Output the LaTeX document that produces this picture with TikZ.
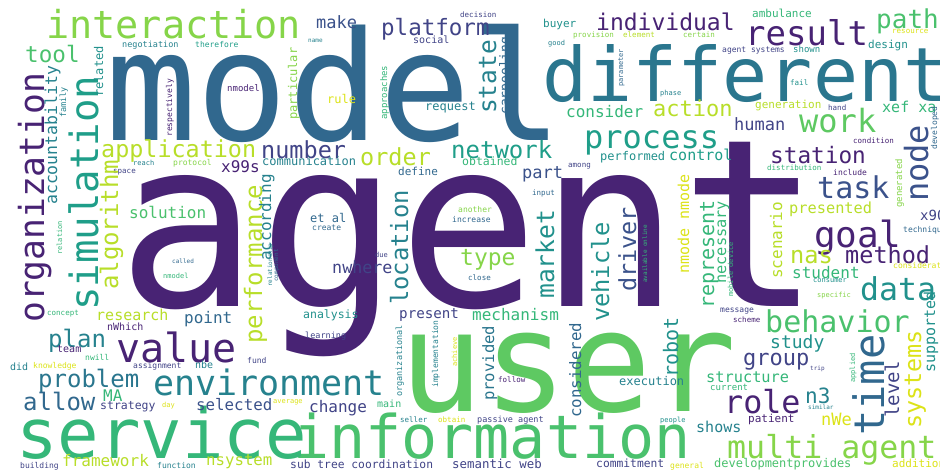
\documentclass[tikz,border=0pt]{standalone}
\usepackage{fontspec}
\newfontfamily\cloudfont{DejaVu Sans Mono}
\usetikzlibrary{positioning}
\definecolor{vpurple}{RGB}{72,35,116}
\definecolor{vindigo}{RGB}{65,68,135}
\definecolor{vblue}{RGB}{59,82,139}
\definecolor{vsteel}{RGB}{49,104,142}
\definecolor{vocean}{RGB}{42,118,142}
\definecolor{vteal}{RGB}{38,130,142}
\definecolor{vcyan}{RGB}{33,145,140}
\definecolor{vsea}{RGB}{31,158,137}
\definecolor{vgreen}{RGB}{53,183,121}
\definecolor{vleaf}{RGB}{74,193,109}
\definecolor{vbright}{RGB}{94,201,98}
\definecolor{vlime}{RGB}{134,213,73}
\definecolor{vchart}{RGB}{184,222,41}
\definecolor{vyellow}{RGB}{220,227,24}
\tikzset{word/.style={inner sep=0pt, anchor=base west,
    font=\cloudfont\fontsize{#1}{#1}\selectfont},
  upword/.style={word=#1, rotate=90}}

\begin{document}
\begin{tikzpicture}[x=1pt, y=-1pt]
    \fill[white] (0,0) rectangle (940,472);
    \useasboundingbox (0,0) rectangle (940,472);

    % big words
    \node[word=234, vpurple] (agent) at (117,306) {agent};
    \node[word=152, vsteel] (model) at (105,140) {model};
    \node[word=75, vocean] (different) at (542,101) {different};
    \node[word=140, vbright] (user) at (399,411) {user};
    \node[word=60, vleaf] (information) at (293,458) {information};
    \node[word=69, vgreen] (service) at (16,458) {service};
    \node[word=38.5, vlime] (interaction) at (46,38) {interaction};
    \node[upword=34.6, vpurple] (organization) at (44,323) {organization};
    \node[upword=39, vsea] (simulation) at (98,311) {simulation};
    \node[word=35, vteal] (environment) at (153,395) {environment};
    \node[word=40, vpurple] (value) at (116,362) {value};
    \node[word=31.6, vlime] (multiagent) at (727,458) {multi agent};
    \node[upword=42, vsteel] (time) at (884,436) {time};

    % medium words
    \node[word=24, vocean] (problem) at (38,387) {problem};
    \node[word=24, vsteel] (allow) at (23,410) {allow};
    \node[word=24, vteal] (plan) at (48,347) {plan};
    \node[word=15, vchart] (research) at (96,320) {research};
    \node[word=16, vsteel] (point) at (184,323) {point};
    \node[word=22.6, vleaf] (tool) at (25,62) {tool};
    \node[word=23.4, vchart] (application) at (101,157) {application};
    \node[word=23.5, vindigo] (number) at (261,158) {number};
    \node[word=16, vpurple] (x99s) at (221,172) {x99s};
    \node[word=16, vleaf] (solution) at (129,218) {solution};
    \node[word=22.5, vindigo] (platform) at (381,35) {platform};
    \node[word=17, vblue] (make) at (316,28) {make};
    \node[word=24, vsea] (network) at (451,158) {network};
    \node[word=23.5, vchart] (order) at (360,165) {order};
    \node[word=32, vsea] (process) at (584,148) {process};
    \node[word=23, vpurple] (individual) at (596,30) {individual};
    \node[word=34, vpurple] (result) at (745,45) {result};
    \node[word=26, vleaf] (path) at (876,28) {path};
    \node[word=22, vchart] (action) at (653,116) {action};
    \node[word=16, vgreen] (consider) at (566,117) {consider};
    \node[word=32, vbright] (work) at (799,132) {work};
    \node[word=15, vgreen] (xefxa) at (882,112) {xef xa};
    \node[word=17, vindigo] (human) at (734,130) {human};
    \node[word=15, vsea] (control) at (669,160) {control};
    \node[word=22.7, vpurple] (station) at (770,163) {station};
    \node[word=30, vblue] (task) at (817,198) {task};
    \node[word=36, vpurple] (goal) at (814,247) {goal};
    \node[word=23.5, vpurple] (method) at (845,263) {method};
    \node[word=31.5, vcyan] (data) at (860,300) {data};
    \node[word=23.6, vchart] (nas) at (790,263) {nas};
    \node[word=16, vgreen] (student) at (792,278) {student};
    \node[word=15.3, vchart] (presented) at (789,213) {presented};
    \node[word=23, vlime] (type) at (460,265) {type};
    \node[word=17, vblue] (part) at (522,178) {part};
    \node[word=16.7, vindigo] (nwhere) at (332,273) {nwhere};
    \node[word=14.2, vindigo] (present) at (399,318) {present};
    \node[word=16, vgreen] (mechanism) at (472,320) {mechanism};
    \node[word=16, vindigo] (change) at (309,412) {change};
    \node[word=30, vleaf] (behavior) at (765,332) {behavior};
    \node[word=18, vcyan] (study) at (770,348) {study};
    \node[word=22, vindigo] (group) at (743,365) {group};
    \node[word=15.3, vgreen] (structure) at (706,382) {structure};
    \node[word=12, vteal] (execution) at (619,385) {execution};
    \node[word=21, vteal] (n3) at (805,403) {n3};
    \node[word=31.7, vpurple] (role) at (724,413) {role};
    \node[word=15, vteal] (shows) at (696,432) {shows};
    \node[word=17, vyellow] (nWe) at (821,425) {nWe};
    \node[word=11, vpurple] (patient) at (748,422) {patient};
    \node[word=16, vchart] (framework) at (62,466) {framework};
    \node[word=15.7, vchart] (nsystem) at (206,465) {nsystem};
    \node[word=15.8, vblue] (selected) at (196,410) {selected};
    \node[word=11.5, vindigo] (strategy) at (100,409) {strategy};
    \node[word=16, vgreen] (MA) at (103,401) {MA};
    \node[word=11.3, vindigo] (subtree) at (290,468) {sub tree coordination};
    \node[word=12.4, vindigo] (semanticweb) at (452,468) {semantic web};
    \node[word=12, vleaf] (devprovides) at (714,467) {developmentprovides};
    \node[word=11.3, vindigo] (commitment) at (596,467) {commitment};
    \node[word=11, vyellow] (additional) at (892,467) {additional};
    \node[word=8, vyellow] (general) at (670,468) {general};
    \node[word=12, vteal] (communication) at (262,165) {communication};
    \node[word=11.5, vgreen] (obtained) at (462,165) {obtained};
    \node[word=11, vsteel] (define) at (398,175) {define};
    \node[word=12, vsteel] (etal) at (310,222) {et al};
    \node[word=11.5, vcyan] (analysis) at (303,318) {analysis};
    \node[word=12, vyellow] (rule) at (327,103) {rule};
    \node[word=12, vteal] (request) at (425,110) {request};
    \node[word=11, vcyan] (buyer) at (543,27) {buyer};
    \node[word=11, vcyan] (design) at (868,48) {design};
    \node[word=11, vgreen] (ambulance) at (752,17) {ambulance};
    \node[word=11, vchart] (generation) at (755,108) {generation};
    \node[word=12, vcyan] (performed) at (600,160) {performed};
    \node[word=14, vindigo] (x90) at (920,220) {x90};
    \node[word=10, vgreen] (main) at (377,407) {main};
    \node[word=10, vindigo] (social) at (413,43) {social};
    \node[word=10, vteal] (did) at (10,370) {did};
    \node[word=10, vpurple] (team) at (57,352) {team};
    \node[word=10, vpurple] (nWhich) at (107,330) {nWhich};
    \node[word=10, vteal] (nbe) at (195,368) {nbe};

    % small words
    \node[word=8.5, vteal] (negotiation) at (122,47) {negotiation};
    \node[word=8, vsea] (therefore) at (195,47) {therefore};
    \node[word=9, vpurple] (nmodelA) at (227,91) {nmodel};
    \node[word=7.5, vindigo] (decision) at (460,17) {decision};
    \node[word=6, vteal] (name) at (308,42) {name};
    \node[word=7.5, vlime] (provision) at (573,37) {provision};
    \node[word=7.5, vchart] (element) at (623,37) {element};
    \node[word=7.5, vlime] (certain) at (683,37) {certain};
    \node[word=7, vteal] (good) at (548,45) {good};
    \node[word=7, vteal] (phase) at (660,95) {phase};
    \node[word=8, vindigo] (agentsystems) at (722,52) {agent systems};
    \node[word=9, vcyan] (shown) at (793,52) {shown};
    \node[word=7.5, vyellow] (resource) at (892,33) {resource};
    \node[word=7.5, vcyan] (fail) at (790,85) {fail};
    \node[word=7.5, vindigo] (hand) at (828,110) {hand};
    \node[word=7.5, vpurple] (condition) at (853,143) {condition};
    \node[word=7.5, vgreen] (distribution) at (767,170) {distribution};
    \node[word=8, vpurple] (include) at (833,175) {include};
    \node[word=8, vsteel] (technique) at (903,232) {technique};
    \node[word=8, vyellow] (consideration) at (893,268) {consideration};
    \node[word=7, vcyan] (consumer) at (813,282) {consumer};
    \node[word=7, vlime] (specific) at (817,297) {specific};
    \node[word=8, vindigo] (message) at (720,312) {message};
    \node[word=7.5, vpurple] (scheme) at (733,322) {scheme};
    \node[word=7.5, vindigo] (among) at (568,167) {among};
    \node[word=7.5, vsteel] (input) at (532,195) {input};
    \node[word=8, vlime] (another) at (458,212) {another};
    \node[word=8, vsteel] (increase) at (452,222) {increase};
    \node[word=8, vsteel] (create) at (312,230) {create};
    \node[word=7, vindigo] (due) at (375,257) {due};
    \node[word=7.5, vsteel] (close) at (468,280) {close};
    \node[word=7.5, vindigo] (space) at (113,173) {space};
    \node[word=7, vteal] (reach) at (133,165) {reach};
    \node[word=8, vlime] (protocol) at (173,165) {protocol};
    \node[word=6, vsteel] (called) at (172,263) {called};
    \node[word=7, vgreen] (nmodelB) at (163,278) {nmodel};
    \node[word=7.5, vgreen] (concept) at (47,315) {concept};
    \node[word=8.5, vindigo] (learning) at (305,338) {learning};
    \node[word=7.5, vpurple] (follow) at (498,382) {follow};
    \node[word=7.5, vteal] (seller) at (400,422) {seller};
    \node[word=7.5, vyellow] (obtain) at (438,422) {obtain};
    \node[word=8.5, vindigo] (passiveagent) at (477,422) {passive agent};
    \node[word=7, vcyan] (people) at (660,422) {people};
    \node[word=9, vgreen] (current) at (710,390) {current};
    \node[word=6, vteal] (similar) at (808,409) {similar};
    \node[word=6, vindigo] (trip) at (810,370) {trip};
    \node[word=8, vyellow] (knowledge) at (33,368) {knowledge};
    \node[word=8, vgreen] (nwill) at (85,360) {nwill};
    \node[word=8, vindigo] (assignment) at (133,368) {assignment};
    \node[word=8, vindigo] (fund) at (247,363) {fund};
    \node[word=7, vyellow] (day) at (162,407) {day};
    \node[word=7, vyellow] (average) at (273,403) {average};
    \node[word=8, vindigo] (building) at (20,468) {building};
    \node[word=8, vteal] (function) at (157,468) {function};

    % vertical words
    \node[upword=24, vchart] (performance) at (262,344) {performance};
    \node[upword=24, vchart] (algorithm) at (118,290) {algorithm};
    \node[upword=16, vteal] (according) at (271,261) {according};
    \node[upword=16.5, vteal] (accountability) at (57,205) {accountability};
    \node[upword=24.5, vteal] (state) at (496,114) {state};
    \node[upword=32, vblue] (node) at (928,202) {node};
    \node[upword=16, vchart] (scenario) at (782,279) {scenario};
    \node[upword=20, vgreen] (represent) at (714,309) {represent};
    \node[upword=15.3, vgreen] (necessary) at (726,284) {necessary};
    \node[upword=15, vyellow] (nmode) at (689,274) {nmode nmode};
    \node[upword=23.5, vblue] (driver) at (636,292) {driver};
    \node[upword=23.7, vcyan] (vehicle) at (609,322) {vehicle};
    \node[upword=24.6, vcyan] (market) at (554,299) {market};
    \node[upword=23.8, vteal] (location) at (408,305) {location};
    \node[upword=15.6, vocean] (provided) at (494,401) {provided};
    \node[upword=15.8, vsteel] (considered) at (581,418) {considered};
    \node[upword=20, vcyan] (robot) at (678,378) {robot};
    \node[upword=19, vindigo] (level) at (899,418) {level};
    \node[upword=23.4, vyellow] (systems) at (921,429) {systems};
    \node[upword=15, vcyan] (supported) at (935,373) {supported};
    \node[upword=12, vcyan] (related) at (103,97) {related};
    \node[upword=8.5, vteal] (family) at (66,118) {family};
    \node[upword=12, vlime] (particular) at (297,120) {particular};
    \node[upword=8, vpurple] (respectively) at (172,137) {respectively};
    \node[upword=9, vgreen] (approaches) at (387,120) {approaches};
    \node[upword=13, vsteel] (carpooling) at (509,115) {carpooling};
    \node[upword=7, vsteel] (parameter) at (623,87) {parameter};
    \node[upword=9, vlime] (generated) at (902,208) {generated};
    \node[upword=8, vsteel] (developed) at (937,150) {developed};
    \node[upword=7, vgreen] (relation) at (62,255) {relation};
    \node[upword=6, vsteel] (component) at (278,282) {component};
    \node[upword=6, vteal] (relationship) at (272,287) {relationship};
    \node[upword=8.5, vteal] (organizational) at (402,397) {organizational};
    \node[upword=8, vteal] (implementation) at (438,388) {implementation};
    \node[upword=7, vyellow] (achieve) at (457,367) {achieve};
    \node[upword=7, vgreen] (applied) at (855,383) {applied};
    \node[upword=7, vgreen] (mobiledevice) at (733,297) {mobile device};
    \node[upword=6, vgreen] (available) at (647,283) {available online};
\end{tikzpicture}
\end{document}
